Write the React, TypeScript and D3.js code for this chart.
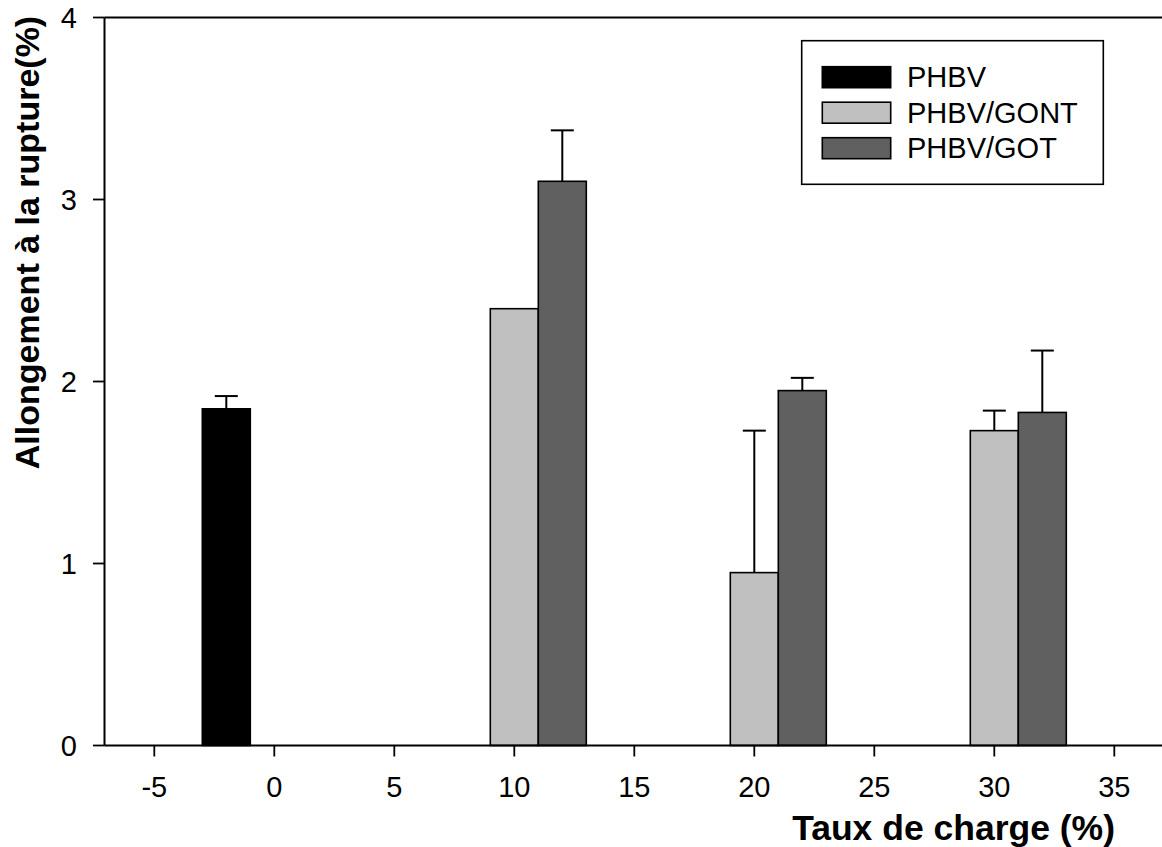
import React from "react";
import * as d3 from "d3";

const charges = [0, 10, 20, 30];
const seriesNames = ["PHBV", "PHBV/GONT", "PHBV/GOT"];
const seriesColors = ["#000000", "#c0c0c0", "#606060"];
const phbvValues = [1.85, null, null, null];
const phbvErrors = [0.07, null, null, null];
const gontValues = [null, 2.4, 0.95, 1.73];
const gontErrors = [null, null, 0.78, 0.11];
const gotValues = [null, 3.1, 1.95, 1.83];
const gotErrors = [null, 0.28, 0.07, 0.34];
const xTicks = [-5, 0, 5, 10, 15, 20, 25, 30, 35];
const yTicks = [0, 1, 2, 3, 4];

const W = 1162;
const H = 847;
const FONT = "Arial, 'Liberation Sans', Helvetica, sans-serif";

export default function App() {
  const xMin = -7.075;
  const xMax = 37.1;
  const left = 104.5;
  const x = d3.scaleLinear().domain([xMin, xMax]).range([left, left + (xMax - xMin) * 24]);
  const y = d3.scaleLinear().domain([0, 4]).range([745.5, 17.5]);

  const series = [
    { name: seriesNames[0], color: seriesColors[0], values: phbvValues, errors: phbvErrors, offset: -3 },
    { name: seriesNames[1], color: seriesColors[1], values: gontValues, errors: gontErrors, offset: -1 },
    { name: seriesNames[2], color: seriesColors[2], values: gotValues, errors: gotErrors, offset: 1 },
  ];
  const barUnits = 2;
  const capHalf = 11.5;

  const x0 = x(xMin);
  const x1 = x(xMax);
  const y0 = y(0);
  const yTop = y(4);

  return (
    <svg width={W} height={H} style={{ position: "absolute", left: 0, top: 0, background: "#fff" }} fontFamily={FONT}>
      <rect x={0} y={0} width={W} height={H} fill="#fff" />
      {/* bars */}
      {series.map((s, si) =>
        charges.map((c, ci) => {
          const v = s.values[ci];
          if (v == null) return null;
          const bx = x(c + s.offset);
          const bw = x(c + s.offset + barUnits) - bx;
          const by = y(v);
          return (
            <rect key={`b${si}-${ci}`} x={bx} y={by} width={bw} height={y0 - by}
              fill={s.color} stroke="#000" strokeWidth={1.6} />
          );
        })
      )}
      {/* error bars */}
      {series.map((s, si) =>
        charges.map((c, ci) => {
          const v = s.values[ci];
          const e = s.errors[ci];
          if (v == null || e == null) return null;
          const cx = x(c + s.offset + barUnits / 2);
          return (
            <g key={`e${si}-${ci}`} stroke="#000" strokeWidth={2}>
              <line x1={cx} x2={cx} y1={y(v)} y2={y(v + e)} />
              <line x1={cx - capHalf} x2={cx + capHalf} y1={y(v + e)} y2={y(v + e)} />
            </g>
          );
        })
      )}
      {/* axes frame */}
      <line x1={x0} x2={x0} y1={yTop} y2={y0} stroke="#000" strokeWidth={2} />
      <line x1={x0} x2={x1} y1={y0} y2={y0} stroke="#000" strokeWidth={2} />
      <line x1={x0} x2={x1} y1={yTop} y2={yTop} stroke="#000" strokeWidth={1.8} />
      {/* y ticks */}
      {yTicks.map((t) => (
        <g key={`yt${t}`}>
          <line x1={x0 - 11.5} x2={x0} y1={y(t)} y2={y(t)} stroke="#000" strokeWidth={1.8} />
          <text x={77} y={y(t)} dy="0.35em" textAnchor="end" fontSize={29} fill="#000">{t}</text>
        </g>
      ))}
      {/* x ticks */}
      {xTicks.map((t) => (
        <g key={`xt${t}`}>
          <line x1={x(t)} x2={x(t)} y1={y0} y2={y0 + 11} stroke="#000" strokeWidth={1.8} />
          <text x={x(t)} y={797} textAnchor="middle" fontSize={29} fill="#000">{t}</text>
        </g>
      ))}
      {/* axis titles */}
      <text x={1115} y={840} textAnchor="end" fontSize={35.5} fontWeight="bold" fill="#000">Taux de charge (%)</text>
      <text transform={`translate(39, 242.5) rotate(-90)`} textAnchor="middle" fontSize={34} fontWeight="bold" fill="#000">
        Allongement à la rupture(%)
      </text>
      {/* legend */}
      <rect x={801.7} y={40.7} width={301.6} height={143.6} fill="#fff" stroke="#000" strokeWidth={1.6} />
      {series.map((s, i) => (
        <g key={`lg${i}`}>
          <rect x={822.3} y={66.7 + i * 35.5} width={68.4} height={21} fill={s.color} stroke="#000" strokeWidth={1.6} />
          <text x={907} y={87 + i * 35.5} fontSize={29} fill="#000">{s.name}</text>
        </g>
      ))}
    </svg>
  );
}
